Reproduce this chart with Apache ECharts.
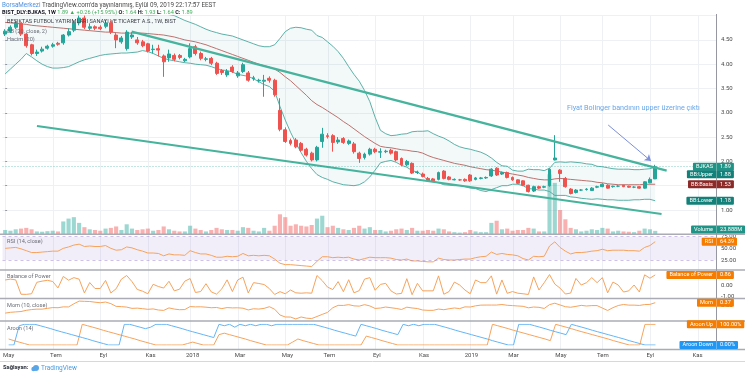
<!DOCTYPE html>
<html><head><meta charset="utf-8">
<script src="https://cdn.jsdelivr.net/npm/echarts@6/dist/echarts.min.js"></script>
<style>html,body{margin:0;padding:0;background:#fff}#c{width:745px;height:375px}</style>
</head><body><div id="c"></div>
<script>
// ---- weekly candles, BIST_DLY:BJKAS 1W, first week 2017-05-01 ----
const startDate = [2017, 4, 1];
const emptyWeeks = 11;
const opens = [4.62,4.68,4.76,4.84,4.62,4.40,4.22,4.27,4.33,4.37, 4.43,4.44,4.60,4.70,4.85,4.95,4.74,4.77,4.76,4.78, 4.85,4.60,4.46,4.32,4.56,4.50,4.46,4.42,4.30,4.32, 4.17,4.13,4.18,4.18,4.07,4.15,4.36,4.22,4.10,4.12, 4.02,3.87,3.78,3.94,3.76,3.85,3.82,3.70,3.66,3.65, 3.71,3.67,3.05,2.65,2.43,2.44,2.37,2.25,2.17,2.03, 2.41,2.53,2.53,2.40,2.47,2.37,2.36,2.17,2.08,2.15, 2.25,2.19,2.20,2.23,2.20,2.06,1.93,1.96,1.77,1.74, 1.65,1.64,1.63,1.80,1.68,1.62,1.62,1.63,1.72,1.63, 1.65,1.66,1.70,1.86,1.74,1.77,1.67,1.62,1.60,1.51, 1.39,1.48,1.47,1.50,2.03,1.82,1.65,1.43,1.36,1.41, 1.42,1.40,1.47,1.48,1.51,1.48,1.49,1.51,1.49,1.47, 1.48,1.45,1.56,1.64];
const highs = [4.72,4.80,4.90,4.86,4.64,4.42,4.30,4.36,4.40,4.44, 4.46,4.62,4.74,4.90,5.00,5.00,4.84,4.80,4.80,4.92, 4.90,4.64,4.58,4.70,4.66,4.56,4.50,4.44,4.40,4.40, 4.20,4.30,4.22,4.21,4.13,4.43,4.40,4.26,4.15,4.15, 4.05,3.90,3.90,3.98,3.86,4.03,3.86,3.76,3.70,3.78, 3.75,3.70,3.30,2.70,2.47,2.48,2.40,2.28,2.20,2.32, 2.69,2.58,2.56,2.50,2.50,2.45,2.40,2.20,2.18,2.28, 2.28,2.27,2.24,2.26,2.22,2.08,2.03,1.98,1.81,1.77, 1.68,1.66,1.79,1.82,1.70,1.65,1.64,1.65,1.74,1.68, 1.68,1.69,1.86,1.88,1.79,1.79,1.69,1.63,1.61,1.52, 1.50,1.50,1.50,1.86,2.54,1.84,1.68,1.45,1.43,1.43, 1.45,1.47,1.50,1.55,1.53,1.50,1.51,1.52,1.50,1.49, 1.49,1.59,1.67,1.93];
const lows = [4.58,4.64,4.72,4.58,4.34,4.18,4.17,4.24,4.30,4.34, 4.38,4.40,4.57,4.66,4.80,4.72,4.70,4.70,4.70,4.74, 4.62,4.33,4.42,4.28,4.52,4.40,4.35,4.24,4.22,4.16, 3.74,4.05,4.06,4.10,4.04,4.12,4.18,4.08,4.06,3.98, 3.78,3.78,3.74,3.82,3.72,3.82,3.64,3.66,3.62,3.33, 3.62,3.33,2.62,2.38,2.33,2.27,2.20,2.10,2.00,2.00, 2.28,2.47,2.20,2.36,2.36,2.34,2.16,1.97,2.04,2.12, 2.17,2.07,2.17,2.14,2.00,1.90,1.90,1.74,1.74,1.67, 1.58,1.58,1.61,1.63,1.61,1.61,1.60,1.58,1.58,1.61, 1.63,1.64,1.68,1.70,1.72,1.65,1.60,1.53,1.49,1.36, 1.37,1.43,1.45,1.48,2.02,1.58,1.46,1.32,1.34,1.39, 1.40,1.39,1.45,1.47,1.44,1.46,1.47,1.47,1.46,1.45, 1.44,1.44,1.55,1.64];
const closes = [4.68,4.76,4.84,4.62,4.38,4.22,4.25,4.31,4.37,4.40, 4.41,4.60,4.67,4.85,4.95,4.76,4.77,4.74,4.73,4.85, 4.66,4.50,4.54,4.66,4.60,4.44,4.38,4.27,4.31,4.29, 4.05,4.21,4.10,4.14,4.10,4.32,4.22,4.12,4.11,4.02, 3.81,3.83,3.85,3.85,3.82,3.99,3.67,3.72,3.67,3.67, 3.67,3.37,2.66,2.41,2.37,2.30,2.23,2.13,2.03,2.29, 2.56,2.51,2.39,2.44,2.39,2.42,2.20,2.06,2.15,2.25, 2.20,2.20,2.21,2.17,2.03,1.93,2.00,1.76,1.78,1.69, 1.60,1.60,1.77,1.65,1.63,1.63,1.62,1.60,1.60,1.66, 1.66,1.67,1.84,1.72,1.77,1.67,1.62,1.55,1.51,1.38, 1.48,1.45,1.48,1.84,2.07,1.75,1.48,1.34,1.41,1.41, 1.43,1.45,1.48,1.53,1.45,1.49,1.49,1.48,1.47,1.47, 1.45,1.58,1.63,1.89];
const volumes = [30,25,35,40,45,35,20,18,22,25, 20,90,110,120,80,50,35,30,25,40, 45,55,30,70,40,30,35,40,25,30, 55,35,25,20,20,60,40,30,20,30, 45,35,30,30,25,50,45,25,20,45, 25,60,140,120,60,70,60,55,65,110, 130,50,60,45,35,30,45,60,40,50, 30,30,20,25,35,40,30,45,25,25, 30,25,40,35,20,15,12,15,30,20, 15,15,80,95,35,40,25,30,30,45, 40,20,20,420,360,170,105,45,35,20, 25,35,30,45,40,20,25,20,18,15, 25,40,35,23.888];
// ---- Bollinger (20, close, 2) ----
const bbUpper = [5.9,5.8,5.7,5.56,5.42,5.45,5.5,5.56,5.59,5.6, 5.58,5.55,5.51,5.44,5.37,5.31,5.26,5.21,5.16,5.12, 5.11,5.08,5.05,5.05,5.04,5.03,5.02,5.01,5.01,5.02, 5.03,5.02,5.0,4.95,4.9,4.86,4.82,4.77,4.72,4.68, 4.65,4.62,4.6,4.58,4.54,4.5,4.46,4.42,4.38,4.36, 4.36,4.4,4.53,4.67,4.74,4.76,4.75,4.72,4.7,4.59, 4.55,4.46,4.37,4.26,4.12,3.95,3.79,3.65,3.46,3.23, 2.91,2.64,2.57,2.53,2.54,2.56,2.57,2.61,2.62,2.62, 2.63,2.57,2.52,2.48,2.42,2.35,2.3,2.27,2.25,2.22, 2.19,2.14,2.07,1.98,1.91,1.9,1.82,1.8,1.8,1.84, 1.83,1.83,1.81,1.86,1.98,1.99,1.98,1.99,1.98,1.97, 1.95,1.94,1.9,1.89,1.87,1.85,1.84,1.84,1.84,1.83, 1.83,1.84,1.85,1.88];
const bbBasis = [4.86,4.85,4.84,4.83,4.82,4.8,4.79,4.78,4.77,4.76, 4.75,4.74,4.73,4.72,4.71,4.7,4.69,4.68,4.67,4.66, 4.66,4.65,4.64,4.64,4.64,4.64,4.64,4.63,4.62,4.61, 4.6,4.58,4.56,4.53,4.5,4.48,4.46,4.43,4.4,4.36, 4.32,4.28,4.24,4.2,4.16,4.12,4.08,4.04,4.0,3.97, 3.94,3.9,3.83,3.74,3.66,3.56,3.46,3.36,3.25,3.17, 3.11,3.04,2.97,2.9,2.82,2.75,2.67,2.59,2.51,2.44, 2.37,2.31,2.29,2.28,2.26,2.24,2.23,2.21,2.2,2.17, 2.12,2.08,2.05,2.02,1.99,1.96,1.94,1.92,1.89,1.87, 1.85,1.83,1.82,1.8,1.78,1.76,1.74,1.72,1.7,1.67, 1.65,1.63,1.62,1.62,1.64,1.65,1.64,1.63,1.62,1.61, 1.6,1.59,1.57,1.56,1.54,1.53,1.52,1.52,1.52,1.52, 1.52,1.53,1.53,1.53];
const bbLower = [3.8,3.9,4.0,4.1,4.22,4.15,4.07,4.0,3.95,3.92, 3.92,3.93,3.95,4.0,4.05,4.09,4.12,4.15,4.18,4.2, 4.21,4.22,4.23,4.23,4.24,4.25,4.28,4.26,4.22,4.17, 4.12,4.09,4.07,4.05,4.03,4.02,4.0,3.99,3.98,3.95, 3.91,3.88,3.87,3.84,3.79,3.77,3.75,3.7,3.64,3.58, 3.54,3.44,3.13,2.85,2.6,2.38,2.18,2.0,1.85,1.73, 1.67,1.63,1.58,1.55,1.52,1.51,1.5,1.52,1.58,1.68, 1.82,1.97,2.0,2.02,1.98,1.92,1.88,1.81,1.78,1.71, 1.61,1.58,1.56,1.52,1.51,1.5,1.5,1.48,1.45,1.44, 1.4,1.38,1.42,1.46,1.5,1.5,1.53,1.53,1.5,1.44, 1.43,1.41,1.41,1.38,1.3,1.3,1.3,1.27,1.26,1.24, 1.23,1.22,1.23,1.22,1.21,1.21,1.2,1.2,1.2,1.21, 1.21,1.22,1.22,1.19];
// ---- indicators ----
const rsi = [50,51,52,49,45,41,41,42,43,44, 44,50,53,57,59,54,55,54,54,56, 50,46,47,53,51,47,44,40,40,39, 34,38,36,36,35,45,41,38,38,35, 31,31,33,32,33,39,34,35,34,35, 34,27,18,15,15,14,13,12,11,22, 32,32,30,31,30,31,27,25,28,31, 30,30,30,29,26,25,27,23,23,22, 21,21,29,26,25,25,26,27,27,30, 32,33,42,37,39,37,36,34,28,25, 33,32,33,55,64,52,44,38,41,41, 42,44,45,48,45,46,46,46,45,45, 44,52,56,64.39];
const bop = [0.43,0.5,0.44,-0.79,-0.8,-0.75,0.23,0.33,0.4,0.3, -0.25,0.73,0.41,0.63,0.5,-0.68,0.21,-0.3,-0.3,0.39, -0.68,-0.32,0.5,0.81,0.29,-0.38,-0.53,-0.75,0.06,-0.13, -0.26,0.32,-0.5,-0.36,0.33,0.55,-0.64,-0.56,0.11,-0.59, -0.78,-0.33,0.44,-0.56,0.43,0.67,-0.68,0.2,0.13,0.04, -0.31,-0.81,-0.57,-0.75,-0.43,-0.67,-0.7,-0.67,-0.7,0.81, 0.37,-0.18,-0.39,0.29,-0.57,0.45,-0.67,-0.48,0.5,0.63, -0.45,0.05,0.14,-0.5,-0.77,-0.72,0.54,-0.83,0.14,-0.5, -0.5,-0.5,0.78,-0.79,-0.56,0.25,0,-0.43,-0.75,0.43, 0.2,0.2,0.78,-0.78,0.43,-0.71,-0.56,-0.7,-0.75,-0.81, 0.69,-0.43,0.2,0.89,0.08,-0.27,-0.77,-0.69,0.56,0, 0.2,0.63,0.2,0.63,-0.67,0.25,0,-0.6,-0.5,0, -0.6,0.87,0.58,0.86];
const mom = [-0.95,-0.85,-0.8,-0.75,-0.6,-0.5,-0.45,-0.45,-0.35,-0.25, -0.27,-0.16,-0.17,0.23,0.57,0.54,0.52,0.43,0.36,0.45, 0.25,-0.1,-0.13,-0.19,-0.35,-0.32,-0.39,-0.47,-0.42,-0.56, -0.61,-0.29,-0.44,-0.52,-0.5,-0.12,-0.16,-0.15,-0.2,-0.27, -0.24,-0.38,-0.25,-0.29,-0.28,-0.33,-0.55,-0.4,-0.44,-0.35, -0.14,-0.46,-1.19,-1.44,-1.45,-1.69,-1.44,-1.59,-1.64,-1.38, -1.11,-0.86,-0.27,0.03,0.02,0.12,-0.03,-0.07,0.12,-0.04, -0.36,-0.31,-0.18,-0.27,-0.36,-0.49,-0.2,-0.3,-0.37,-0.56, -0.6,-0.6,-0.44,-0.52,-0.4,-0.3,-0.38,-0.16,-0.18,-0.03, 0.06,0.07,0.07,0.07,0.14,0.04,0,-0.05,-0.09,-0.28, -0.18,-0.22,-0.36,0.12,0.3,0.08,-0.14,-0.21,-0.1,0.03, -0.05,0,0,-0.31,-0.62,-0.26,0.01,0.14,0.06,0.06, 0.02,0.13,0.15,0.37];
const aroonUp = [29,21,14,7,0,0,0,0,0,0, 0,0,0,0,100,93,86,79,71,64, 57,50,43,36,29,21,14,7,0,0, 0,0,0,0,7,14,7,0,0,0, 50,57,50,43,36,29,21,14,7,0, 0,0,0,0,14,29,21,14,7,0, 0,0,0,0,0,0,0,0,43,36, 29,21,14,7,0,0,0,0,0,0, 0,0,0,0,0,0,0,0,0,0, 0,0,100,93,86,79,71,64,57,50, 43,36,29,21,100,93,86,79,71,64, 57,50,43,36,29,21,14,7,0,0, 0,100,100,100];
const aroonDown = [0,0,93,100,100,100,93,86,79,71, 64,57,50,43,36,29,21,14,7,0, 0,0,100,100,93,86,79,86,100,100, 100,93,86,79,71,64,57,50,43,36, 100,93,100,86,100,93,100,93,100,100, 93,100,100,100,100,100,100,100,100,93, 86,79,71,64,57,50,43,100,93,86, 79,71,64,57,50,100,93,100,93,100, 100,100,93,86,79,71,64,57,50,43, 36,29,21,14,7,0,0,100,100,100, 93,86,79,71,64,57,50,100,93,86, 79,71,64,57,50,43,36,29,21,14, 7,0,0,0];
// ---- drawings: [week index, price] ----
const upperTrend = [[23.94, 4.669], [125.17, 1.809]];
const lowerTrend = [[6.02, 2.728], [124.2, 0.918]];
const noteArrow = [[114.1, 2.749], [122.2, 2.008]];
const noteAnchor = [106.3, 3.10];
const noteText = 'Fiyat Bolinger bandının upper üzerine çıktı';
const monthNames = ['Oca','Şub','Mar','Nis','May','Haz','Tem','Ağu','Eyl','Eki','Kas','Ara'];

// ---------------------------------------------------------------
const FONT = 'Roboto, "Liberation Sans", Arial, sans-serif';
const UP = '#26a69a', DN = '#ef5350', ORANGE_L = '#f7a35c', ORANGE = '#f57c00';
const nData = closes.length, nCats = nData + emptyWeeks;
const dates = [];
const t0 = Date.UTC(startDate[0], startDate[1], startDate[2]);
for (let i = 0; i < nCats; i++) dates.push(new Date(t0 + i * 7 * 86400000).toISOString().slice(0, 10));
function isMonthTick(i) {
  const d = new Date(dates[i] + 'T00:00:00Z');
  return d.getUTCDate() <= 7 && d.getUTCMonth() % 2 === 0;
}
function monthLabel(v) {
  const d = new Date(v + 'T00:00:00Z');
  return d.getUTCMonth() === 0 ? String(d.getUTCFullYear()) : monthNames[d.getUTCMonth()];
}

const L = 2.5, R = 29;
const grids = [
  {left: L, right: R, top: 15.6, height: 218.7},   // price 0.5..5.0
  {left: L, right: R, top: 225.05, height: 46.6},  // RSI 0..100
  {left: L, right: R, top: 261.6, height: 46.8},   // BoP -2..2
  {left: L, right: R, top: 297.7, height: 23.7},   // Mom -2..1
  {left: L, right: R, top: 324.3, height: 20.7}    // Aroon 0..100
];
const xAxes = grids.map((g, k) => ({
  type: 'category', gridIndex: k, data: dates, boundaryGap: true,
  axisLine: {show: false}, axisTick: {show: false}, splitLine: {show: false},
  axisLabel: k === 4 ? {
    show: true, interval: (i) => isMonthTick(i), formatter: monthLabel,
    fontSize: 6, color: '#4a4a4a', margin: 7, fontFamily: FONT
  } : {show: false}
}));
xAxes.push({type: 'value', gridIndex: 0, min: -0.5, max: nCats - 0.5, show: false});

const lab = (fmt) => ({show: true, fontSize: 6, color: '#4a4a4a', margin: 5, fontFamily: FONT, formatter: fmt});
const yAxes = [
  {type: 'value', gridIndex: 0, position: 'right', min: 0.5, max: 5, interval: 0.5,
   axisLine: {show: false}, axisTick: {show: true, length: 2, lineStyle: {color: '#9598a1'}},
   splitLine: {show: true, lineStyle: {color: '#eef0f4', width: 1}},
   axisLabel: Object.assign(lab(v => v.toFixed(2)), {showMinLabel: false, showMaxLabel: false})},
  {type: 'value', gridIndex: 0, min: 0, max: 1531, show: false},
  {type: 'value', gridIndex: 1, position: 'right', min: 0, max: 100, interval: 25,
   axisLine: {show: false}, axisTick: {show: false}, splitLine: {show: false},
   axisLabel: lab(v => (v === 0 || v === 100) ? '' : v.toFixed(2))},
  {type: 'value', gridIndex: 2, position: 'right', min: -2, max: 2, interval: 1,
   axisLine: {show: false}, axisTick: {show: false}, splitLine: {show: false},
   axisLabel: lab(v => Math.abs(v) === 2 ? '' : v.toFixed(2))},
  {type: 'value', gridIndex: 3, position: 'right', min: -2, max: 1, interval: 1,
   axisLine: {show: false}, axisTick: {show: false}, splitLine: {show: false},
   axisLabel: lab(v => v === 0 ? '0.00' : '')},
  {type: 'value', gridIndex: 4, position: 'right', min: 0, max: 100, interval: 50,
   axisLine: {show: false}, axisTick: {show: false}, splitLine: {show: false},
   axisLabel: {show: false}}
];

const line = (name, data, xi, yi, color, width, z, extra) => Object.assign({
  name, type: 'line', data, xAxisIndex: xi, yAxisIndex: yi, symbol: 'none', silent: true,
  lineStyle: {color, width}, z, animation: false
}, extra || {});

const candleData = closes.map((c, i) => [opens[i], c, lows[i], highs[i]]);
const volData = volumes.map((v, i) => ({value: v, itemStyle: {color: closes[i] >= opens[i] ? 'rgba(38,166,154,0.45)' : 'rgba(239,83,80,0.45)'}}));
const bbDiff = bbUpper.map((u, i) => +(u - bbLower[i]).toFixed(3));

const series = [
  line('bbBase', bbLower, 0, 0, 'rgba(0,0,0,0)', 0, 1, {stack: 'bb'}),
  line('bbFill', bbDiff, 0, 0, 'rgba(0,0,0,0)', 0, 1, {stack: 'bb', areaStyle: {color: 'rgba(25,135,135,0.07)'}}),
  {name: 'Volume', type: 'bar', data: volData, xAxisIndex: 0, yAxisIndex: 1, barWidth: '78%', z: 1, silent: true, animation: false},
  line('BB:Upper', bbUpper, 0, 0, '#4aa89e', 0.9, 2),
  line('BB:Lower', bbLower, 0, 0, '#4aa89e', 0.9, 2),
  line('BB:Basis', bbBasis, 0, 0, '#b5625f', 0.9, 2),
  {name: 'BJKAS', type: 'candlestick', data: candleData, xAxisIndex: 0, yAxisIndex: 0, barWidth: 3.4, z: 3,
   silent: true, animation: false,
   itemStyle: {color: UP, color0: DN, borderColor: UP, borderColor0: DN, borderWidth: 1},
   markLine: {silent: true, symbol: 'none', label: {show: false}, animation: false,
     lineStyle: {color: 'rgba(38,166,154,0.55)', type: [1, 2], width: 1},
     data: [{yAxis: closes[nData - 1]}]}},
  line('upperTrend', upperTrend, 5, 0, '#46b39c', 2.2, 4),
  line('lowerTrend', lowerTrend, 5, 0, '#46b39c', 2.2, 4),
  {name: 'note', type: 'line', data: [], xAxisIndex: 5, yAxisIndex: 0, silent: true, animation: false,
   markLine: {silent: true, animation: false, symbol: ['none', 'arrow'], symbolSize: 6, label: {show: false},
     lineStyle: {color: '#7c8fd8', width: 1, type: 'solid'},
     data: [[{coord: noteArrow[0]}, {coord: noteArrow[1]}]]}},
  line('RSI', rsi, 1, 2, ORANGE_L, 1, 3, {
    markArea: {silent: true, itemStyle: {color: 'rgba(149,117,205,0.12)'}, data: [[{yAxis: 25}, {yAxis: 75}]]},
    markLine: {silent: true, symbol: 'none', label: {show: false}, animation: false,
      lineStyle: {color: 'rgba(149,117,205,0.45)', type: [3, 3], width: 1}, data: [{yAxis: 25}, {yAxis: 75}]}}),
  line('BoP', bop, 2, 3, ORANGE_L, 1, 3),
  line('Mom', mom, 3, 4, ORANGE_L, 1, 3),
  line('Aroon Up', aroonUp, 4, 5, ORANGE_L, 1, 3),
  line('Aroon Down', aroonDown, 4, 5, '#64b5f6', 1, 3)
];

const chart = echarts.init(document.getElementById('c'), null, {renderer: 'canvas', width: 745, height: 375});
chart.setOption({animation: false, backgroundColor: '#fff', grid: grids, xAxis: xAxes, yAxis: yAxes, series});

// ---------- overlay: texts, separators, value labels ----------
const meas = document.createElement('canvas').getContext('2d');
function tw(t, fs, w) { meas.font = (w || 'normal') + ' ' + fs + 'px ' + FONT; return meas.measureText(t).width; }
const px = (i) => chart.convertToPixel({xAxisIndex: 5}, i);
const py = (yi, v) => chart.convertToPixel({yAxisIndex: yi}, v);
const G = [];
const txt = (text, x, y, fs, fill, extra) => G.push(Object.assign({type: 'text', z: 50, silent: true,
  style: Object.assign({text, x, y, fill, font: 'normal ' + fs + 'px ' + FONT, verticalAlign: 'middle', align: 'left'}, extra || {})}, {}));
const hline = (y, x1, x2, stroke, w, z) => G.push({type: 'line', z: z || 40, silent: true, shape: {x1, y1: y, x2, y2: y}, style: {stroke, lineWidth: w}});

// vertical grid lines at month ticks
const plotRight = 745 - R;
for (let i = 0; i < nCats; i++) if (isMonthTick(i)) {
  const x = Math.round(px(i)) + 0.5;
  G.push({type: 'line', z: -1, silent: true, shape: {x1: x, y1: 15.6, x2: x, y2: 349.5}, style: {stroke: '#eef0f4', lineWidth: 1}});
}
// pane separators and price-scale line
[234.3, 270, 298.5, 321, 349.5].forEach(y => hline(y, 0, 745, '#a9acb5', 1.4, 45));
hline(361.5, 0, 745, '#d6d8de', 1, 45);
G.push({type: 'line', z: 45, silent: true, shape: {x1: plotRight + 0.5, y1: 14, x2: plotRight + 0.5, y2: 349.5}, style: {stroke: '#9598a1', lineWidth: 1}});

// header
G.push({type: 'text', z: 50, silent: true, style: {x: 2, y: 5, verticalAlign: 'middle', font: 'normal 6.3px ' + FONT,
  text: '{a|BorsaMerkezi} {b|TradingView.com\'da yayınlanmış, Eylül 09, 2019 22:17:57 EEST}',
  rich: {a: {fill: '#4f8fe0', font: 'normal 6.3px ' + FONT}, b: {fill: '#4a4a4a', font: 'normal 6.3px ' + FONT}}}});
const gr = '#3fae5a';
G.push({type: 'text', z: 50, silent: true, style: {x: 2, y: 12.3, verticalAlign: 'middle', font: 'bold 5.6px ' + FONT,
  text: '{k|BIST_DLY:BJKAS, 1W} {g|1.89 ▲ +0.26 (+15.95%)} {k|O:} {g|1.64} {k|H:} {g|1.93} {k|L:} {g|1.64} {k|C:} {g|1.89}',
  rich: {k: {fill: '#131722', font: 'bold 5.6px ' + FONT}, g: {fill: gr, font: 'normal 5.6px ' + FONT}}}});
// pane legends
txt('BESIKTAS FUTBOL YATIRIMLARI SANAYI VE TICARET A.S., 1W, BIST', 7, 22, 5.6, '#3a3d46');
txt('BB (20, close, 2)', 7, 32, 5.6, '#6a6d78');
txt('Hacim (20)', 7, 40, 5.6, '#6a6d78');
txt('RSI (14, close)', 7, 241.5, 5.6, '#6a6d78');
txt('Balance of Power', 7, 277, 5.6, '#6a6d78');
txt('Mom (10, close)', 7, 306, 5.6, '#6a6d78');
txt('Aroon (14)', 7, 329, 5.6, '#6a6d78');
// annotation note
txt(noteText, px(noteAnchor[0]), py(0, noteAnchor[1]), 7.2, '#6aa6e8');
// footer
txt('Sağlayan:', 3, 368, 5.8, '#2a2e39', {font: 'bold 5.8px ' + FONT});
G.push({type: 'circle', z: 50, silent: true, shape: {cx: 36, cy: 368, r: 3}, style: {fill: '#58a6e8'}});
G.push({type: 'circle', z: 50, silent: true, shape: {cx: 33.5, cy: 369, r: 2.2}, style: {fill: '#58a6e8'}});
txt('TradingView', 41, 368, 6.5, '#4a9be0');

// value labels on the price scale
const FS = 5.6;
function valueBox(name, val, y, color) {
  const nw = tw(name, FS), vw = tw(val, FS);
  const x1 = plotRight - nw - 6, x2 = plotRight + 4 + vw + 3;
  G.push({type: 'rect', z: 60, silent: true, shape: {x: x1, y: y - 4, width: x2 - x1, height: 8, r: 1}, style: {fill: color}});
  G.push({type: 'line', z: 61, silent: true, shape: {x1: plotRight + 0.5, y1: y - 4, x2: plotRight + 0.5, y2: y + 4}, style: {stroke: 'rgba(255,255,255,0.5)', lineWidth: 0.6}});
  txt(name, x1 + 3, y, FS, '#fff', {});
  txt(val, plotRight + 4, y, FS, '#fff', {});
  G[G.length - 1].z = 62; G[G.length - 2].z = 62;
}
const last = nData - 1;
let yPrice = py(0, closes[last]);
let yUp = Math.max(py(0, bbUpper[last]), yPrice + 7.6);
valueBox('BJKAS', closes[last].toFixed(2), yPrice, '#1f9486');
valueBox('BB:Upper', bbUpper[last].toFixed(2), yUp, '#13807a');
valueBox('BB:Basis', bbBasis[last].toFixed(2), py(0, bbBasis[last]), '#8c2a28');
valueBox('BB:Lower', '1.18', py(0, bbLower[last]), '#13807a');
valueBox('Volume', volumes[last].toFixed(3) + 'M', Math.min(py(1, volumes[last]), 229.5), '#1f9486');
valueBox('RSI', rsi[last].toFixed(2), py(2, rsi[last]), ORANGE);
valueBox('Balance of Power', bop[last].toFixed(2), py(3, bop[last]), ORANGE);
valueBox('Mom', mom[last].toFixed(2), py(4, mom[last]), ORANGE);
valueBox('Aroon Up', aroonUp[last].toFixed(2) + '%', py(5, aroonUp[last]), ORANGE);
valueBox('Aroon Down', aroonDown[last].toFixed(2) + '%', py(5, aroonDown[last]), '#2196f3');

chart.setOption({graphic: {elements: G}});
</script>
</body></html>
